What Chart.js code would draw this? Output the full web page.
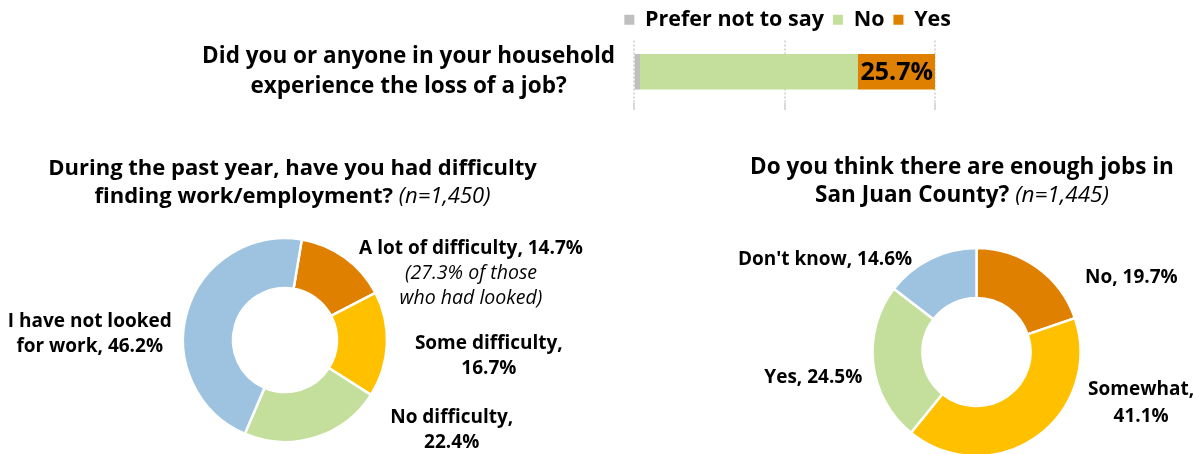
<!DOCTYPE html>
<html>
<head>
<meta charset="utf-8">
<script src="https://cdn.jsdelivr.net/npm/chart.js@4.4.0/dist/chart.umd.min.js"></script>
<style>
  html, body { margin: 0; padding: 0; background: #fff; }
  body { width: 1194px; height: 454px; position: relative; overflow: hidden; font-family: "Open Sans", sans-serif; }
  canvas { position: absolute; left: 0; top: 0; }
  .title { position: absolute; text-align: center; font-weight: bold; font-size: 22px; line-height: 28px; color: #000; white-space: nowrap; }
  .title i { font-weight: normal; }
</style>
</head>
<body>
<canvas id="jobLossChart" width="960" height="110"></canvas>
<canvas id="difficultyChart" width="1194" height="454"></canvas>
<canvas id="enoughJobsChart" width="1194" height="454"></canvas>
<div class="title" id="difficultyTitle" style="left:0;top:152px;width:585px"></div>
<div class="title" id="enoughTitle" style="left:662px;top:152px;width:600px;font-size:22.5px"></div>
<script>
// --- donnees ---
const jobLossQuestion = [['Did you or anyone in your household', 'experience the loss of a job?']];
const jobLossSeries = ['Prefer not to say', 'No', 'Yes'];
const jobLossValues = [1.9, 72.4, 25.7];

const difficultyTitle = ['During the past year, have you had difficulty', 'finding work/employment?'];
const difficultyN = '(n=1,450)';
const difficultyCats = ['A lot of difficulty', 'Some difficulty', 'No difficulty', 'I have not looked\nfor work'];
const difficultyValues = [14.7, 16.7, 22.4, 46.2];
const difficultyNotes = [['(27.3% of those', 'who had looked)'], [], [], []];

const enoughTitle = ['Do you think there are enough jobs in', 'San Juan County?'];
const enoughN = '(n=1,445)';
const enoughCats = ['No', 'Somewhat', 'Yes', "Don't know"];
const enoughValues = [19.7, 41.1, 24.5, 14.6];

const FONT = '"Open Sans", sans-serif';
const GRAY = '#BFBFBF', GREEN = '#C4DF9B', ORANGE = '#E08000', YELLOW = '#FFC000', BLUE = '#9DC3E0';

document.getElementById('difficultyTitle').innerHTML = difficultyTitle[0] + '<br>' + difficultyTitle[1] + ' <i>' + difficultyN + '</i>';
document.getElementById('enoughTitle').innerHTML = enoughTitle[0] + '<br>' + enoughTitle[1] + ' <i>' + enoughN + '</i>';

// valeur affichee au bout de la barre "Yes"
const barValueLabel = {
    id: 'barValueLabel',
    afterDatasetsDraw(chart, args, opts) {
        const ctx = chart.ctx;
        const meta = chart.getDatasetMeta(opts.datasetIndex);
        const value = chart.data.datasets[opts.datasetIndex].data[0];
        const bar = meta.data[0];
        ctx.save();
        ctx.font = opts.font;
        ctx.fillStyle = '#000';
        ctx.textAlign = 'right';
        ctx.textBaseline = 'middle';
        ctx.fillText(value.toFixed(1) + '%', bar.x - 2, bar.y + 1);
        ctx.restore();
    }
};

// etiquettes autour des donuts
const arcLabels = {
    id: 'arcLabels',
    afterDatasetsDraw(chart, args, opts) {
        const ctx = chart.ctx;
        const arcs = chart.getDatasetMeta(0).data;
        const values = chart.data.datasets[0].data;
        ctx.save();
        ctx.fillStyle = '#000';
        ctx.textBaseline = 'middle';
        ctx.textAlign = 'center';
        arcs.forEach((arc, i) => {
            const label = chart.data.labels[i] + ',' + (opts.valueOnNewLine[i] ? '\n' : ' ') + values[i].toFixed(1) + '%';
            const lines = label.split('\n').map(t => ({ text: t, font: opts.font }));
            (opts.notes[i] || []).forEach(t => lines.push({ text: t, font: opts.noteFont }));
            const mid = (arc.startAngle + arc.endAngle) / 2;
            const r = arc.outerRadius + opts.gap;
            const ax = arc.x + Math.cos(mid) * r + opts.nudge[i][0];
            const ay = arc.y + Math.sin(mid) * r + opts.nudge[i][1];
            let w = 0;
            lines.forEach(l => { ctx.font = l.font; w = Math.max(w, ctx.measureText(l.text).width); });
            const cx = Math.cos(mid) >= 0 ? ax + w / 2 : ax - w / 2;
            const top = ay - (lines.length - 1) * opts.lineHeight / 2;
            lines.forEach((l, j) => {
                ctx.font = l.font;
                ctx.fillText(l.text, cx, top + j * opts.lineHeight);
            });
        });
        ctx.restore();
    }
};

// 1. barre empilee
new Chart(document.getElementById('jobLossChart'), {
    type: 'bar',
    data: {
        labels: jobLossQuestion,
        datasets: jobLossSeries.map((s, i) => ({
            label: s,
            data: [jobLossValues[i]],
            backgroundColor: [GRAY, GREEN, ORANGE][i],
            barThickness: 35,
        })),
    },
    options: {
        indexAxis: 'y',
        responsive: false,
        animation: false,
        events: [],
        scales: {
            x: {
                stacked: true,
                min: 0,
                max: 100,
                ticks: { display: false, stepSize: 50 },
                grid: { color: '#D9D9D9', lineWidth: 2, drawTicks: true, tickLength: 7 },
                border: { display: false, dash: [2, 2] },
            },
            y: {
                stacked: true,
                grid: { display: false, drawTicks: false },
                border: { display: false },
                ticks: {
                    color: '#000',
                    crossAlign: 'center',
                    padding: 19,
                    font: { family: FONT, size: 22.5, weight: 'bold', lineHeight: 1.33 },
                },
                afterFit: (s) => {
                    s.width = 634;
                    s.paddingTop = 0;
                    s.paddingBottom = 0;
                },
            },
            y2: {
                type: 'linear',
                position: 'right',
                ticks: { display: false },
                grid: { display: false, drawTicks: false },
                border: { display: false },
                afterFit: (s) => { s.width = 25; },
            },
        },
        plugins: {
            legend: {
                position: 'top',
                align: 'end',
                labels: {
                    boxWidth: 10,
                    boxHeight: 10,
                    padding: 9,
                    color: '#000',
                    font: { family: FONT, size: 21.5, weight: 'bold' },
                },
            },
            tooltip: { enabled: false },
            barValueLabel: { datasetIndex: 2, font: 'bold 25px ' + FONT },
        },
    },
    plugins: [barValueLabel],
});

// 2. donut difficulte
new Chart(document.getElementById('difficultyChart'), {
    type: 'doughnut',
    data: {
        labels: difficultyCats,
        datasets: [{
            data: difficultyValues,
            backgroundColor: [ORANGE, YELLOW, GREEN, BLUE],
            borderColor: '#fff',
            borderWidth: 2.5,
            hoverOffset: 0,
            radius: 102,
            cutout: '51%',
            rotation: 9.5,
        }],
    },
    options: {
        responsive: false,
        animation: false,
        events: [],
        layout: { padding: { left: 183, right: 807, top: 238, bottom: 12 } },
        plugins: {
            legend: { display: false },
            tooltip: { enabled: false },
            arcLabels: {
                gap: 14,
                lineHeight: 25,
                font: 'bold 19px ' + FONT,
                noteFont: 'italic 19.5px ' + FONT,
                valueOnNewLine: [false, true, true, false],
                notes: difficultyNotes,
                nudge: [[6, 27], [14, 11], [71, -21], [-2, 26.5]],
            },
        },
    },
    plugins: [arcLabels],
});

// 3. donut emplois suffisants
new Chart(document.getElementById('enoughJobsChart'), {
    type: 'doughnut',
    data: {
        labels: enoughCats,
        datasets: [{
            data: enoughValues,
            backgroundColor: [ORANGE, YELLOW, GREEN, BLUE],
            borderColor: '#fff',
            borderWidth: 2.5,
            hoverOffset: 0,
            radius: 104,
            cutout: '52%',
            rotation: 0,
        }],
    },
    options: {
        responsive: false,
        animation: false,
        events: [],
        layout: { padding: { left: 872, right: 113, top: 250, bottom: 0 } },
        plugins: {
            legend: { display: false },
            tooltip: { enabled: false },
            arcLabels: {
                gap: 14,
                lineHeight: 27,
                font: 'bold 19px ' + FONT,
                noteFont: 'italic 19px ' + FONT,
                valueOnNewLine: [false, true, false, false],
                notes: [],
                nudge: [[40, 22], [44, -46], [3, 12], [-12, 13.5]],
            },
        },
    },
    plugins: [arcLabels],
});
</script>
</body>
</html>
